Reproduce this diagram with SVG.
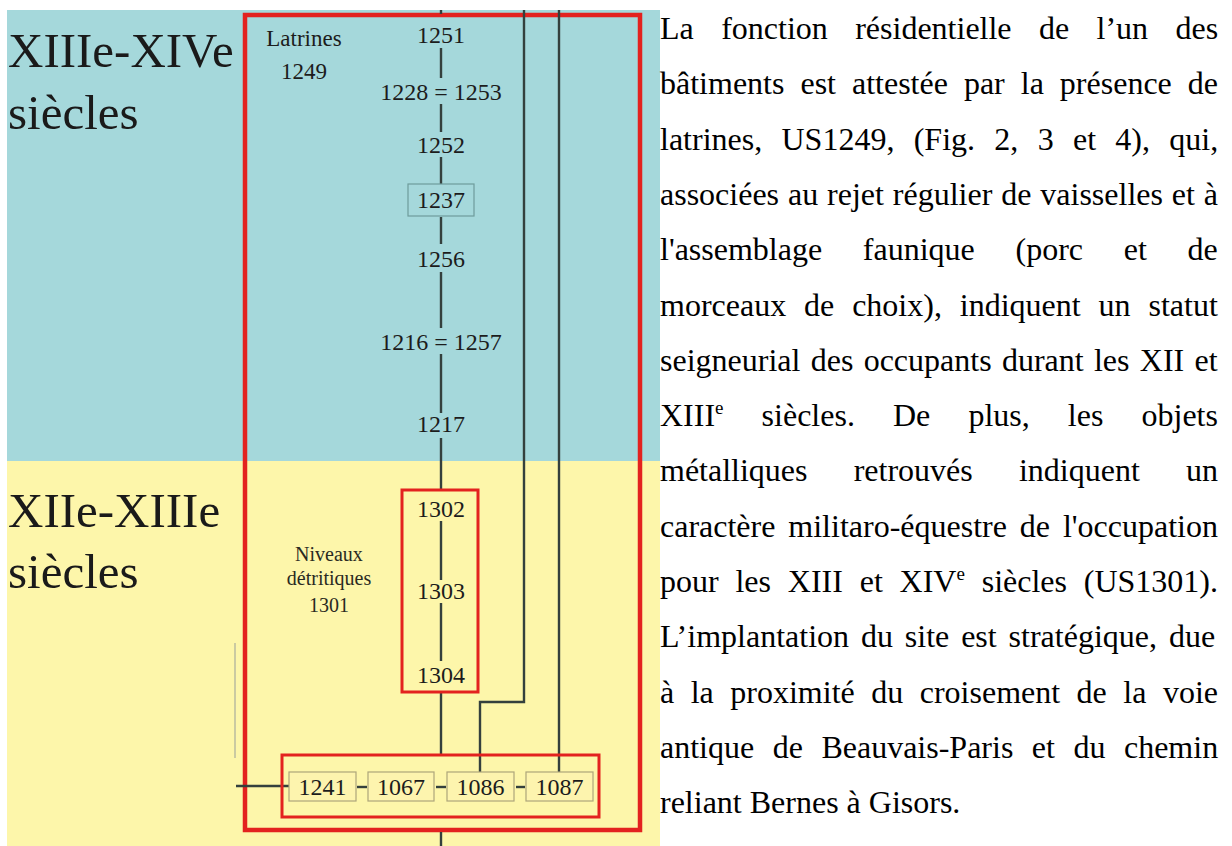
<svg xmlns="http://www.w3.org/2000/svg" width="1232" height="846" viewBox="0 0 1232 846">
<style>
.lbl{font-family:"Liberation Serif","Times New Roman",serif;font-size:24px;fill:#1c1c1c;text-anchor:middle}
.big{font-family:"Liberation Serif","Times New Roman",serif;font-size:49px;fill:#1a1a1a}
.small{font-family:"Liberation Serif","Times New Roman",serif;font-size:20px;fill:#2a2a22;text-anchor:middle}
.body{font-family:"Liberation Serif","Times New Roman",serif;font-size:32px;fill:#000}
.red{fill:none;stroke:#e3221f}
.ubox{fill:#fdf4ae;stroke:#ada57a;stroke-width:1.2}
.ln{stroke:#34403d;stroke-width:2.4;fill:none}
.sup{font-size:19px}
</style>
<rect x="0" y="0" width="1232" height="846" fill="#ffffff"/>
<rect x="7" y="10" width="653" height="451" fill="#a5d8db"/>
<rect x="7" y="461" width="653" height="385" fill="#fdf6aa"/>

<g id="period-top">
<text class="big" x="8" y="67">XIIIe-XIVe</text>
<text class="big" x="8" y="129">siècles</text>
</g>
<g id="period-bottom">
<text class="big" x="8" y="527">XIIe-XIIIe</text>
<text class="big" x="8" y="588">siècles</text>
</g>

<g id="outer-frame"><rect class="red" x="245" y="15" width="395" height="815" stroke-width="4.5"/></g>

<g id="connectors">
<line class="ln" x1="441" y1="10" x2="441" y2="14"/>
<line class="ln" x1="441" y1="48" x2="441" y2="78"/>
<line class="ln" x1="441" y1="104" x2="441" y2="132"/>
<line class="ln" x1="441" y1="157" x2="441" y2="184"/>
<line class="ln" x1="441" y1="217" x2="441" y2="244"/>
<line class="ln" x1="441" y1="272" x2="441" y2="328"/>
<line class="ln" x1="441" y1="354" x2="441" y2="413"/>
<line class="ln" x1="441" y1="438" x2="441" y2="490"/>
<line class="ln" x1="441" y1="521" x2="441" y2="580"/>
<line class="ln" x1="441" y1="603" x2="441" y2="661"/>
<line class="ln" x1="441" y1="692" x2="441" y2="755"/>
<line class="ln" x1="441" y1="832" x2="441" y2="846"/>
<polyline class="ln" points="524,10 524,702 480,702 480,772" stroke="#22282a" stroke-width="2.2"/>
<line class="ln" x1="559" y1="10" x2="559" y2="772" stroke-width="2.2"/>
<line class="ln" x1="236" y1="786" x2="289" y2="786" stroke="#1e1e1e" stroke-width="2"/>
<line class="ln" x1="357" y1="787" x2="367" y2="787" stroke-width="2"/>
<line class="ln" x1="436" y1="787" x2="446" y2="787" stroke-width="2"/>
<line class="ln" x1="516" y1="787" x2="525" y2="787" stroke-width="2"/>
<line x1="235" y1="643" x2="235" y2="758" stroke="#a9ae9c" stroke-width="1.2"/>
</g>

<g id="n-latrines">
<text class="lbl" x="304" y="46" style="font-size:23px">Latrines</text>
<text class="lbl" x="304" y="79" style="font-size:23px">1249</text>
</g>
<g id="n-1251"><text class="lbl" x="441" y="43">1251</text></g>
<g id="n-1228-1253"><text class="lbl" x="441" y="100">1228 = 1253</text></g>
<g id="n-1252"><text class="lbl" x="441" y="153">1252</text></g>
<g id="n-1237">
<rect x="408" y="184" width="66" height="32" fill="none" stroke="#6e9c9b" stroke-width="1.2"/>
<text class="lbl" x="441" y="208">1237</text>
</g>
<g id="n-1256"><text class="lbl" x="441" y="267">1256</text></g>
<g id="n-1216-1257"><text class="lbl" x="441" y="350">1216 = 1257</text></g>
<g id="n-1217"><text class="lbl" x="441" y="432">1217</text></g>

<g id="n-niveaux">
<text class="small" x="329" y="561">Niveaux</text>
<text class="small" x="329" y="585">détritiques</text>
<text class="small" x="329" y="612">1301</text>
</g>

<g id="g-1302-1304">
<rect class="red" x="402" y="490" width="76" height="202" stroke-width="3"/>
<g id="n-1302"><text class="lbl" x="441" y="517">1302</text></g>
<g id="n-1303"><text class="lbl" x="441" y="599">1303</text></g>
<g id="n-1304"><text class="lbl" x="441" y="683">1304</text></g>
</g>

<g id="g-base">
<rect class="red" x="282" y="755" width="317" height="62" stroke-width="3"/>
<g id="n-1241"><rect class="ubox" x="289" y="772" width="67" height="29"/><text class="lbl" x="322.5" y="795">1241</text></g>
<g id="n-1067"><rect class="ubox" x="368" y="772" width="66" height="29"/><text class="lbl" x="401" y="795">1067</text></g>
<g id="n-1086"><rect class="ubox" x="447" y="772" width="67" height="29"/><text class="lbl" x="480.5" y="795">1086</text></g>
<g id="n-1087"><rect class="ubox" x="526" y="772" width="67" height="29"/><text class="lbl" x="559.5" y="795">1087</text></g>
</g>

<g id="body-text">
<text class="body" x="660" y="39" style="word-spacing:19.4px">La fonction résidentielle de l’un des</text>
<text class="body" x="660" y="94.3" style="word-spacing:8px">bâtiments est attestée par la présence de</text>
<text class="body" x="660" y="149.6" style="word-spacing:11.3px">latrines, US1249, (Fig. 2, 3 et 4), qui,</text>
<text class="body" x="660" y="204.9" style="word-spacing:0.9px">associées au rejet régulier de vaisselles et à</text>
<text class="body" x="660" y="260.2" style="word-spacing:32.7px">l'assemblage faunique (porc et de</text>
<text class="body" x="660" y="315.5" style="word-spacing:9.9px">morceaux de choix), indiquent un statut</text>
<text class="body" x="660" y="370.8" style="word-spacing:2.3px">seigneurial des occupants durant les XII et</text>
<text class="body" x="660" y="426.1" style="word-spacing:30.1px">XIII<tspan class="sup" dy="-12">e</tspan><tspan dy="12"> siècles. De plus, les objets</tspan></text>
<text class="body" x="660" y="481.4" style="word-spacing:38.2px">métalliques retrouvés indiquent un</text>
<text class="body" x="660" y="536.7" style="word-spacing:4.9px">caractère militaro-équestre de l'occupation</text>
<text class="body" x="660" y="592" style="word-spacing:8.8px">pour les XIII et XIV<tspan class="sup" dy="-12">e</tspan><tspan dy="12"> siècles (US1301).</tspan></text>
<text class="body" x="660" y="647.3" style="word-spacing:3.9px">L’implantation du site est stratégique, due</text>
<text class="body" x="660" y="702.6" style="word-spacing:8.5px">à la proximité du croisement de la voie</text>
<text class="body" x="660" y="757.9" style="word-spacing:10.5px">antique de Beauvais-Paris et du chemin</text>
<text class="body" x="660" y="813.2">reliant Bernes à Gisors.</text>
</g>
</svg>
